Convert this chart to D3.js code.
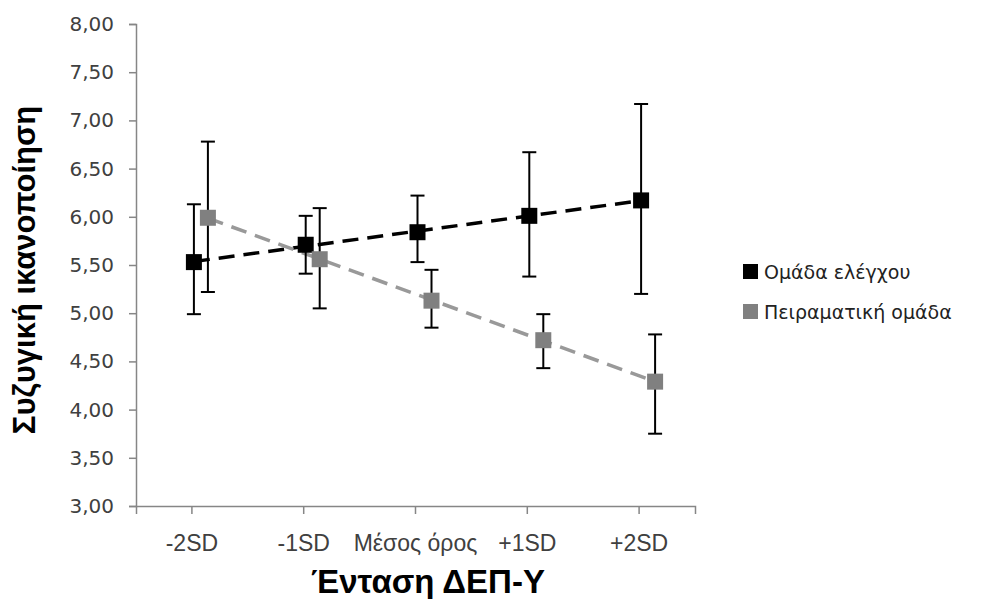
<!DOCTYPE html>
<html>
<head>
<meta charset="utf-8">
<script src="https://cdn.jsdelivr.net/npm/d3@7"></script>
<style>
  body { margin: 0; background: #fff; }
  svg { display: block; }
</style>
</head>
<body>
<div id="chart"></div>
<script>
// categories and tick labels
const categories = ["-2SD", "-1SD", "Μέσος όρος", "+1SD", "+2SD"];
const yTicks = [3, 3.5, 4, 4.5, 5, 5.5, 6, 6.5, 7, 7.5, 8];

// Ομάδα ελέγχου
const controlMean = [5.53, 5.71, 5.84, 6.01, 6.17];
const controlHigh = [6.13, 6.01, 6.22, 6.67, 7.17];
const controlLow = [4.99, 5.41, 5.53, 5.38, 5.20];

// Πειραματική ομάδα
const expMean = [5.99, 5.56, 5.13, 4.72, 4.29];
const expHigh = [6.78, 6.09, 5.45, 4.99, 4.78];
const expLow = [5.22, 5.05, 4.85, 4.43, 3.75];

const seriesNames = ["Ομάδα ελέγχου", "Πειραματική ομάδα"];

const width = 981, height = 599;
const svg = d3.select("#chart").append("svg")
    .attr("width", width)
    .attr("height", height);

const x = d3.scaleBand().domain(categories).range([136, 695]);
const y = d3.scaleLinear().domain([3, 8]).range([506, 24]);

const fmt = v => d3.format(".2f")(v).replace(".", ",");

// y axis
const yAxis = svg.append("g")
    .attr("transform", "translate(136,0)")
    .call(d3.axisLeft(y).tickValues(yTicks).tickSize(7).tickPadding(15).tickFormat(fmt));
yAxis.select(".domain").attr("stroke", "#868686").attr("stroke-width", 1.5);
yAxis.selectAll(".tick line").attr("stroke", "#868686").attr("stroke-width", 1.5);
yAxis.selectAll("text")
    .style("font-family", "'DejaVu Sans', Verdana, sans-serif")
    .style("font-size", "20px")
    .attr("fill", "#404040");

// x axis
const xAxis = svg.append("g")
    .attr("transform", "translate(0,506)")
    .call(d3.axisBottom(x).tickSizeOuter(0).tickSize(8).tickPadding(21));
xAxis.select(".domain").attr("stroke", "#868686").attr("stroke-width", 1.5);
xAxis.selectAll(".tick line").attr("stroke", "#868686").attr("stroke-width", 1.5);
xAxis.selectAll("text")
    .style("font-family", "'Liberation Sans', Arial, sans-serif")
    .style("font-size", "23px")
    .attr("fill", "#404040");

// axis titles
svg.append("text")
    .attr("x", 428)
    .attr("y", 593)
    .attr("text-anchor", "middle")
    .style("font-family", "'Liberation Sans', Arial, sans-serif")
    .style("font-size", "33px")
    .style("font-weight", "bold")
    .text("Ένταση ΔΕΠ-Υ");

svg.append("text")
    .attr("transform", "translate(35,270) rotate(-90)")
    .attr("text-anchor", "middle")
    .style("font-family", "'Liberation Sans', Arial, sans-serif")
    .style("font-size", "31px")
    .style("font-weight", "bold")
    .text("Συζυγική ικανοποίηση");

// series setup
const series = [
    { name: seriesNames[0], mean: controlMean, high: controlHigh, low: controlLow, offset: 2, marker: "#000", line: "#000" },
    { name: seriesNames[1], mean: expMean, high: expHigh, low: expLow, offset: 16, marker: "#808080", line: "#999" }
];

const cx = (s, i) => x(categories[i]) + x.bandwidth() / 2 + s.offset;

// linear trend over category index
function trend(vals) {
    const idx = vals.map((v, i) => i);
    const mx = d3.mean(idx), my = d3.mean(vals);
    const slope = d3.sum(idx, i => (i - mx) * (vals[i] - my)) / d3.sum(idx, i => (i - mx) ** 2);
    return i => my + slope * (i - mx);
}

series.forEach(s => {
    const t = trend(s.mean);
    const last = s.mean.length - 1;
    svg.append("line")
        .attr("x1", cx(s, 0)).attr("y1", y(t(0)))
        .attr("x2", cx(s, last)).attr("y2", y(t(last)))
        .attr("stroke", s.line)
        .attr("stroke-width", 3.5)
        .attr("stroke-dasharray", "16,9");
});

series.forEach(s => {
    const g = svg.append("g");
    const pts = s.mean.map((v, i) => ({ i, v, hi: s.high[i], lo: s.low[i] }));

    g.selectAll(".err")
        .data(pts).enter().append("line")
        .attr("x1", d => cx(s, d.i)).attr("x2", d => cx(s, d.i))
        .attr("y1", d => y(d.hi)).attr("y2", d => y(d.lo))
        .attr("stroke", "#000").attr("stroke-width", 2);

    g.selectAll(".capTop")
        .data(pts).enter().append("line")
        .attr("x1", d => cx(s, d.i) - 7).attr("x2", d => cx(s, d.i) + 7)
        .attr("y1", d => y(d.hi)).attr("y2", d => y(d.hi))
        .attr("stroke", "#000").attr("stroke-width", 2);

    g.selectAll(".capBot")
        .data(pts).enter().append("line")
        .attr("x1", d => cx(s, d.i) - 7).attr("x2", d => cx(s, d.i) + 7)
        .attr("y1", d => y(d.lo)).attr("y2", d => y(d.lo))
        .attr("stroke", "#000").attr("stroke-width", 2);

    g.selectAll("rect")
        .data(pts).enter().append("rect")
        .attr("x", d => cx(s, d.i) - 8)
        .attr("y", d => y(d.v) - 8)
        .attr("width", 16).attr("height", 16)
        .attr("fill", s.marker);
});

// legend
const legend = svg.append("g").attr("transform", "translate(743,0)");
series.forEach((s, k) => {
    const yy = 272 + k * 40;
    legend.append("rect")
        .attr("x", 0).attr("y", yy - 8)
        .attr("width", 15).attr("height", 15)
        .attr("fill", s.marker);
    legend.append("text")
        .attr("x", 21).attr("y", yy)
        .attr("dy", "0.35em")
        .style("font-family", "'DejaVu Sans', Tahoma, sans-serif")
        .style("font-size", "19px")
        .attr("fill", "#222")
        .text(s.name);
});
</script>
</body>
</html>
